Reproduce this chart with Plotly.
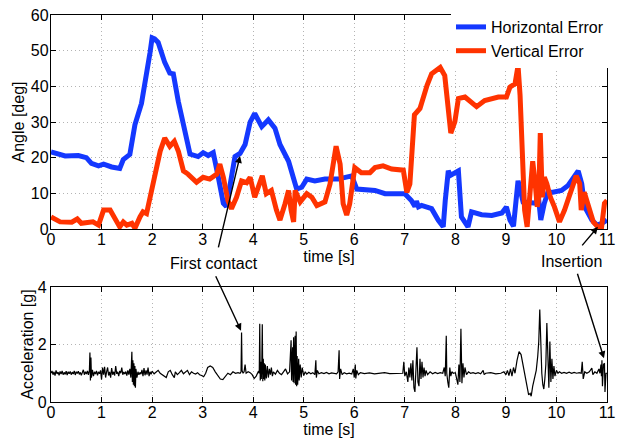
import plotly.graph_objects as go

# ---------------- data ----------------
x_ticks = list(range(0, 12))
angle_ticks = [0, 10, 20, 30, 40, 50, 60]
accel_ticks = [0, 2, 4]

horiz_t = [0.0, 0.28, 0.54, 0.7, 0.8, 0.94, 1.04, 1.2, 1.36, 1.43, 1.56, 1.66, 1.79, 1.89, 1.96,
           2.0, 2.05, 2.12, 2.25, 2.35, 2.42, 2.52, 2.65, 2.75, 2.91, 3.01, 3.11, 3.21, 3.31,
           3.41, 3.47, 3.54, 3.64, 3.74, 3.84, 3.94, 4.03, 4.17, 4.3, 4.43, 4.53, 4.7, 4.8,
           4.86, 4.96, 5.06, 5.22, 5.42, 5.68, 5.95, 6.05, 6.41, 6.61, 7.0, 7.13, 7.2, 7.23,
           7.27, 7.33, 7.53, 7.66, 7.76, 7.8, 7.86, 7.9, 7.96, 8.06, 8.12, 8.19, 8.25, 8.32,
           8.52, 8.72, 8.92, 9.01, 9.08, 9.15, 9.24, 9.34, 9.5, 9.6, 9.63, 9.69, 9.76, 9.83,
           9.93, 10.1, 10.23, 10.33, 10.43, 10.5, 10.56, 10.7, 10.8, 10.9, 11.0]
horiz_v = [21.6, 20.5, 20.6, 20.0, 18.4, 17.7, 18.2, 17.4, 17.0, 19.5, 20.9, 29.2, 35.2, 43.0, 49.5,
           53.6, 53.3, 52.3, 46.7, 43.7, 43.5, 35.7, 27.0, 21.0, 20.3, 21.4, 20.6, 21.4, 14.5,
           7.2, 6.3, 11.7, 20.3, 21.2, 23.7, 30.0, 32.4, 28.7, 30.6, 28.3, 23.7, 19.0, 13.5,
           11.2, 11.7, 14.0, 13.5, 14.0, 14.0, 14.9, 11.2, 10.8, 9.9, 9.9, 8.0, 6.3, 7.8,
           6.2, 6.6, 5.7, 2.5, 0.6, 8.0, 16.3, 15.0, 15.6, 16.3, 3.4, 1.6, 0.6, 4.8,
           4.0, 3.8, 4.5, 6.2, 2.5, 0.8, 13.5, 7.6, 7.2, 7.2, 10.8, 2.5, 7.2, 10.3,
           10.3, 10.8, 12.2, 14.5, 16.3, 12.7, 6.2, 2.5, 1.1, 1.6, 2.5]

vert_t = [0.0, 0.18, 0.41, 0.52, 0.6, 0.83, 0.94, 1.04, 1.17, 1.3, 1.36, 1.43, 1.5, 1.6, 1.66,
          1.76, 1.82, 1.89, 1.99, 2.06, 2.16, 2.25, 2.35, 2.44, 2.52, 2.62, 2.71, 2.88, 3.01,
          3.14, 3.28, 3.34, 3.41, 3.5, 3.57, 3.67, 3.77, 3.87, 3.94, 4.03, 4.13, 4.18, 4.26,
          4.36, 4.46, 4.53, 4.63, 4.7, 4.75, 4.8, 4.83, 4.93, 5.06, 5.16, 5.26, 5.42, 5.52,
          5.64, 5.72, 5.78, 5.85, 5.91, 6.01, 6.14, 6.31, 6.41, 6.57, 6.74, 6.97, 7.04, 7.1,
          7.19, 7.3, 7.37, 7.44, 7.53, 7.7, 7.79, 7.86, 7.91, 7.99, 8.06, 8.19, 8.32, 8.42,
          8.58, 8.85, 9.01, 9.08, 9.18, 9.24, 9.28, 9.32, 9.37, 9.42, 9.47, 9.53, 9.58, 9.62,
          9.65, 9.68, 9.72, 9.76, 9.81, 9.88, 9.96, 10.06, 10.16, 10.29, 10.39, 10.46, 10.49,
          10.55, 10.63, 10.73, 10.82, 10.89, 10.95, 11.0]
vert_v = [3.4, 2.0, 1.9, 2.8, 1.6, 2.0, 1.1, 5.3, 5.3, 1.6, 0.6, 2.0, 1.1, 1.6, 0.2,
          3.4, 4.8, 4.3, 10.3, 14.5, 21.8, 25.5, 23.2, 24.6, 21.8, 16.3, 15.4, 13.1, 14.5,
          14.0, 15.4, 18.2, 14.5, 8.0, 5.7, 8.9, 13.5, 13.0, 14.5, 8.9, 13.0, 14.9, 9.9,
          10.8, 5.3, 2.5, 7.1, 10.8, 5.3, 2.0, 10.8, 7.6, 9.9, 8.9, 6.6, 7.6, 12.6,
          23.2, 18.2, 7.1, 3.9, 7.1, 17.2, 15.8, 15.8, 17.2, 17.7, 16.8, 16.5, 10.3, 12.6,
          32.0, 33.8, 37.5, 40.3, 43.5, 45.3, 43.0, 33.8, 26.9, 30.1, 36.6, 37.0, 35.7, 34.3,
          36.0, 37.0, 37.0, 39.8, 40.7, 45.8, 37.5, 19.0, 5.3, 0.6, 8.9, 19.0, 12.7, 6.2,
          8.9, 26.9, 8.9, 14.5, 12.7, 8.9, 6.2, 2.0, 5.3, 10.3, 14.9, 12.7, 5.3,
          10.3, 6.2, 2.0, 0.6, 0.2, 7.2, 8.0]

accel_t = [0.00, 0.02, 0.04, 0.06, 0.08, 0.10, 0.12, 0.14, 0.16, 0.18, 0.20, 0.22, 0.24, 0.26, 0.28,
           0.30, 0.32, 0.34, 0.36, 0.38, 0.40, 0.42, 0.44, 0.46, 0.48, 0.50, 0.52, 0.54, 0.56, 0.58,
           0.60, 0.62, 0.64, 0.66, 0.68, 0.70, 0.72, 0.74, 0.76, 0.77, 0.78, 0.79, 0.80, 0.82, 0.84,
           0.86, 0.88, 0.90, 0.92, 0.94, 0.96, 0.98, 1.00, 1.02, 1.04, 1.06, 1.08, 1.10, 1.12, 1.14,
           1.16, 1.18, 1.20, 1.22, 1.24, 1.26, 1.28, 1.30, 1.32, 1.34, 1.36, 1.38, 1.40, 1.42, 1.44,
           1.46, 1.48, 1.50, 1.52, 1.54, 1.56, 1.58, 1.60, 1.61, 1.62, 1.63, 1.64, 1.65, 1.66, 1.67,
           1.68, 1.70, 1.72, 1.74, 1.76, 1.78, 1.80, 1.82, 1.84, 1.86, 1.88, 1.90, 1.92, 1.94, 1.96,
           1.98, 2.00, 2.04, 2.08, 2.12, 2.16, 2.20, 2.24, 2.28, 2.32, 2.36, 2.40, 2.44, 2.46, 2.50,
           2.54, 2.58, 2.62, 2.66, 2.70, 2.74, 2.78, 2.82, 2.86, 2.90, 2.94, 2.98, 3.02, 3.06, 3.10,
           3.15, 3.20, 3.25, 3.30, 3.35, 3.40, 3.45, 3.50, 3.55, 3.60, 3.65, 3.70, 3.74, 3.76, 3.77,
           3.78, 3.80, 3.82, 3.84, 3.86, 3.90, 3.94, 3.98, 4.02, 4.06, 4.10, 4.12, 4.13, 4.14, 4.15,
           4.16, 4.17, 4.18, 4.19, 4.20, 4.21, 4.22, 4.23, 4.24, 4.26, 4.28, 4.30, 4.32, 4.34, 4.36,
           4.38, 4.40, 4.44, 4.48, 4.52, 4.56, 4.60, 4.64, 4.68, 4.72, 4.75, 4.76, 4.78, 4.79, 4.80,
           4.81, 4.83, 4.84, 4.85, 4.86, 4.87, 4.88, 4.90, 4.91, 4.93, 4.95, 4.97, 5.00, 5.03, 5.06,
           5.10, 5.14, 5.18, 5.22, 5.24, 5.25, 5.27, 5.30, 5.35, 5.40, 5.45, 5.50, 5.55, 5.60, 5.65,
           5.68, 5.70, 5.71, 5.73, 5.76, 5.80, 5.85, 5.90, 5.95, 5.98, 6.00, 6.02, 6.03, 6.05, 6.08,
           6.12, 6.20, 6.30, 6.40, 6.50, 6.60, 6.70, 6.80, 6.90, 6.96, 6.98, 7.00, 7.03, 7.06, 7.08,
           7.10, 7.12, 7.14, 7.16, 7.18, 7.20, 7.22, 7.24, 7.26, 7.28, 7.30, 7.32, 7.34, 7.36, 7.38,
           7.40, 7.42, 7.45, 7.50, 7.55, 7.60, 7.65, 7.70, 7.75, 7.78, 7.80, 7.82, 7.83, 7.85, 7.87,
           7.89, 7.91, 7.93, 7.96, 8.00, 8.03, 8.05, 8.07, 8.09, 8.11, 8.13, 8.15, 8.17, 8.19, 8.22,
           8.26, 8.30, 8.35, 8.40, 8.45, 8.50, 8.55, 8.57, 8.60, 8.70, 8.80, 8.90, 8.96, 9.00, 9.03,
           9.06, 9.09, 9.12, 9.15, 9.18, 9.22, 9.26, 9.30, 9.34, 9.38, 9.42, 9.45, 9.48, 9.50, 9.53,
           9.57, 9.60, 9.63, 9.65, 9.67, 9.69, 9.71, 9.73, 9.75, 9.77, 9.79, 9.81, 9.83, 9.85, 9.87,
           9.89, 9.91, 9.93, 9.95, 9.97, 10.00, 10.03, 10.06, 10.10, 10.15, 10.20, 10.25, 10.30, 10.35, 10.40,
           10.45, 10.49, 10.51, 10.53, 10.56, 10.60, 10.65, 10.70, 10.72, 10.76, 10.80, 10.84, 10.86, 10.88, 10.89,
           10.90, 10.91, 10.93, 10.95, 10.96, 10.98, 11.00]
accel_v = [1.00, 1.08, 0.95, 1.05, 0.92, 1.10, 0.98, 1.04, 0.93, 1.06, 0.97, 1.08, 0.95, 1.03, 0.96,
           1.07, 0.94, 1.05, 0.98, 1.06, 0.95, 1.04, 0.97, 1.08, 0.94, 1.05, 0.99, 1.07, 0.96, 1.03,
           0.93, 1.06, 1.12, 0.95, 1.05, 0.97, 1.08, 0.94, 1.10, 1.72, 0.75, 1.55, 0.85, 1.12, 0.90,
           1.05, 0.97, 1.08, 0.93, 1.05, 0.98, 1.10, 0.78, 1.20, 0.95, 1.22, 0.85, 1.05, 1.20, 0.92,
           1.05, 0.85, 1.18, 0.95, 1.05, 0.92, 1.25, 0.98, 1.05, 0.90, 1.08, 1.00, 1.20, 0.95, 1.04,
           0.97, 1.06, 0.92, 1.10, 0.95, 1.15, 0.85, 1.75, 0.70, 1.45, 0.60, 1.35, 0.55, 1.25, 0.50,
           1.15, 0.85, 1.05, 0.95, 1.03, 0.97, 1.12, 0.90, 1.18, 0.93, 1.10, 0.95, 1.20, 0.90, 1.05,
           0.96, 1.07, 0.98, 1.05, 1.10, 1.00, 0.95, 0.90, 0.85, 1.05, 1.10, 0.95, 0.85, 1.05, 0.95,
           1.02, 1.10, 0.98, 1.05, 1.10, 0.95, 1.05, 1.00, 0.97, 1.02, 0.95, 0.92, 0.88, 1.00, 1.20,
           1.25, 1.20, 1.05, 0.90, 0.80, 0.78, 0.90, 1.00, 0.95, 1.05, 1.00, 1.02, 1.00, 1.05, 2.42,
           1.10, 1.00, 1.05, 1.30, 1.00, 1.05, 1.02, 0.95, 0.82, 0.90, 1.05, 1.00, 2.72, 0.75, 1.40,
           0.80, 1.20, 2.70, 0.72, 1.50, 0.80, 1.35, 0.75, 1.30, 0.82, 1.25, 0.85, 1.15, 0.95, 1.20,
           0.90, 1.05, 0.97, 1.10, 1.00, 0.95, 1.05, 1.15, 0.98, 1.05, 2.15, 0.75, 1.90, 0.70, 2.25,
           0.65, 2.30, 0.60, 2.45, 0.55, 1.60, 0.60, 1.50, 0.75, 1.30, 0.85, 1.20, 0.92, 1.05, 0.97,
           1.03, 0.98, 1.02, 0.95, 1.45, 0.85, 1.10, 0.98, 1.02, 0.99, 1.03, 0.98, 1.01, 1.00, 0.98,
           1.05, 1.80, 0.80, 1.15, 0.95, 1.02, 0.98, 1.00, 0.97, 1.15, 0.85, 1.30, 0.82, 1.10, 0.95,
           1.02, 0.99, 1.01, 0.98, 1.00, 1.02, 0.99, 1.00, 1.01, 1.00, 1.40, 0.90, 1.05, 0.70, 1.20,
           0.85, 1.35, 0.75, 1.45, 0.50, 0.35, 1.20, 1.90, 0.70, 0.55, 1.50, 0.80, 1.40, 0.85, 1.20,
           0.90, 1.10, 0.95, 1.05, 0.98, 1.03, 0.99, 1.02, 1.00, 1.20, 0.90, 2.30, 1.00, 0.70, 0.50,
           1.20, 0.90, 1.05, 1.00, 1.02, 0.80, 0.60, 1.30, 0.70, 2.55, 0.65, 1.35, 0.85, 1.20, 0.95,
           1.05, 1.00, 1.02, 0.99, 1.02, 0.98, 1.10, 0.95, 1.00, 1.02, 0.98, 1.00, 1.05, 0.95, 1.10,
           0.92, 1.15, 0.90, 1.20, 1.00, 1.45, 1.75, 1.65, 1.25, 0.85, 0.50, 0.25, 0.30, 0.20, 0.55,
           0.85, 1.10, 1.60, 2.10, 3.22, 1.80, 1.00, 0.60, 0.45, 0.80, 1.30, 2.75, 1.40, 0.50, 2.10,
           0.70, 1.50, 0.80, 1.25, 0.90, 1.10, 1.00, 1.05, 1.00, 1.03, 1.00, 1.04, 1.00, 1.03, 1.00,
           1.02, 1.00, 1.40, 0.80, 1.05, 1.00, 1.05, 1.18, 0.95, 1.05, 1.00, 1.15, 1.00, 1.30, 0.90,
           1.45, 0.55, 1.30, 1.35, 0.35, 1.00, 1.00]

series_names = ["Horizontal Error", "Vertical Error"]
annotation_texts = ["First contact", "Insertion"]

# ---------------- styling ----------------
FONT = "Liberation Sans, Arial, Helvetica, sans-serif"
FS = 16
BLUE = "#1438ff"
RED = "#ff3300"
GRID = "#b4b4b4"

fig = go.Figure()
fig.add_trace(go.Scatter(x=horiz_t, y=horiz_v, mode="lines", name=series_names[0],
                         line=dict(color=BLUE, width=5), xaxis="x", yaxis="y"))
fig.add_trace(go.Scatter(x=vert_t, y=vert_v, mode="lines", name=series_names[1],
                         line=dict(color=RED, width=5), xaxis="x", yaxis="y"))
fig.add_trace(go.Scatter(x=accel_t, y=accel_v, mode="lines", showlegend=False,
                         line=dict(color="black", width=1.2), xaxis="x2", yaxis="y2"))

axis_common = dict(showline=True, linecolor="black", linewidth=1.3, mirror="ticks",
                   ticks="inside", ticklen=5, tickcolor="black", tickwidth=1,
                   showgrid=True, gridcolor=GRID, griddash="1px,3px", gridwidth=1,
                   zeroline=False, automargin=False, ticklabeloverflow="allow",
                   tickfont=dict(family=FONT, size=FS, color="black"))

# the page body adds an 8 px offset, so margins are shifted to compensate
fig.update_layout(
    template="none",
    width=624, height=438,
    paper_bgcolor="white", plot_bgcolor="white",
    margin=dict(l=43, r=25, t=7, b=44, autoexpand=False),
    font=dict(family=FONT, size=FS, color="black"),
    xaxis=dict(domain=[0, 1], anchor="y", range=[0, 11], tickvals=x_ticks,
               ticklabelstandoff=-4,
               title=dict(text="time [s]", standoff=0, font=dict(size=FS)), **axis_common),
    yaxis=dict(domain=[0.447, 1], anchor="x", range=[0, 60], tickvals=angle_ticks,
               ticklabelstandoff=-2,
               title=dict(text="Angle [deg]", standoff=2, font=dict(size=FS)), **axis_common),
    xaxis2=dict(domain=[0, 1], anchor="y2", range=[0, 11], tickvals=x_ticks,
                ticklabelstandoff=-4,
                title=dict(text="time [s]", standoff=0, font=dict(size=FS)), **axis_common),
    yaxis2=dict(domain=[0, 0.2972], anchor="x2", range=[0, 4], tickvals=accel_ticks,
                title=dict(text="Acceleration [g]", standoff=0, font=dict(size=FS)), **axis_common),
    legend=dict(x=0.7194, y=0.938, xanchor="left", yanchor="middle", bgcolor="white",
                borderwidth=0, font=dict(family=FONT, size=FS), itemwidth=30,
                tracegroupgap=0),
    showlegend=True,
)

arrow_style = dict(showarrow=True, arrowhead=2, arrowsize=1, arrowwidth=1.4,
                   arrowcolor="black", text="")
# First contact label and arrows
fig.add_annotation(text=annotation_texts[0], x=3.22, y=0.3566, xref="x", yref="paper",
                   showarrow=False, font=dict(family=FONT, size=FS))
fig.add_annotation(x=3.74, y=20.5, xref="x", yref="y", ax=-22, ay=93, **arrow_style)
fig.add_annotation(x=3.76, y=2.48, xref="x2", yref="y2", ax=-26, ay=-56, **arrow_style)
# Insertion label and arrows
fig.add_annotation(text=annotation_texts[1], x=10.3, y=0.3618, xref="x", yref="paper",
                   showarrow=False, font=dict(family=FONT, size=FS))
fig.add_annotation(x=10.82, y=0.6, xref="x", yref="y", ax=-17, ay=20, **arrow_style)
fig.add_annotation(x=10.94, y=1.52, xref="x2", yref="y2", ax=-27, ay=-86, **arrow_style)

fig.write_html("out.html")
